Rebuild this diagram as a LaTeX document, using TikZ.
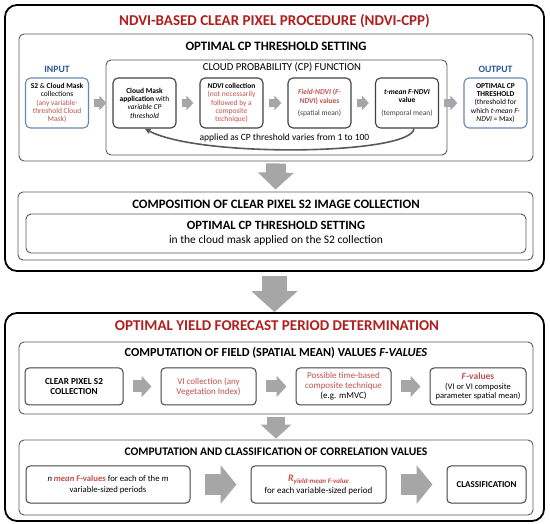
\documentclass[tikz,border=0pt]{standalone}
\usepackage{fontspec}
\setmainfont{Carlito}
\usepackage{xcolor}
\usetikzlibrary{arrows.meta}

\definecolor{titlered}{HTML}{B01E1E}
\definecolor{notered}{HTML}{C0504D}
\definecolor{ioblue}{HTML}{2F5597}
\definecolor{ioframe}{HTML}{6A85B5}
\definecolor{arrowgray}{HTML}{A6A6A6}
\definecolor{framegray}{HTML}{595959}
\definecolor{softblack}{HTML}{404040}

\newcommand{\redtxt}[1]{\textcolor{notered}{#1}}
\newcommand{\graytxt}[1]{\textcolor{softblack}{#1}}

\tikzset{
  outerbox/.style={draw=black, line width=1.8pt, rounded corners=12pt},
  groupbox/.style={draw=framegray, line width=0.9pt, rounded corners=5pt},
  stepbox/.style={draw=softblack, line width=1.1pt, rounded corners=5pt, align=center,
    inner sep=1pt, minimum width=63pt, minimum height=50pt, font=\fontsize{7.5}{8.3}\selectfont},
  iobox/.style={stepbox, draw=ioframe},
  rowbox/.style={draw=softblack, line width=1pt, rounded corners=4pt, align=center,
    inner sep=1pt, minimum height=37pt, font=\fontsize{9}{10}\selectfont},
  headline/.style={font=\fontsize{15}{17}\selectfont\bfseries, text=titlered},
  sectitle/.style={font=\fontsize{12}{14}\selectfont\bfseries},
  iolabel/.style={font=\fontsize{9.7}{11}\selectfont\bfseries, text=ioblue},
  thinflow/.style={draw=arrowgray, line width=8pt, -{Triangle[length=7pt,width=14pt]},
    shorten <=5pt, shorten >=6pt},
  midflow/.style={draw=arrowgray, line width=12pt, -{Triangle[length=10pt,width=21pt]},
    shorten <=9pt, shorten >=9pt},
  wideflow/.style={draw=arrowgray, line width=21pt, -{Triangle[length=16pt,width=38pt]},
    shorten <=14pt, shorten >=14pt},
  looparrow/.style={draw=framegray, line width=1.6pt, -{Latex[length=6pt,width=6pt]}}
}

\begin{document}
\begin{tikzpicture}[x=1pt, y=-1pt]
  \useasboundingbox (0,0) rectangle (550,524);

  % Frames of the clear pixel procedure
  \node[outerbox, minimum width=539pt, minimum height=266pt] (cpp) at (274.5,138) {};
  \node[headline] (cpptitle) at (274.5,21) {NDVI-BASED CLEAR PIXEL PROCEDURE (NDVI-CPP)};
  \node[groupbox, minimum width=514pt, minimum height=127pt] (setting) at (276,97.5) {};
  \node[sectitle, font=\fontsize{12.8}{14}\selectfont\bfseries] (settingtitle) at (276,46) {OPTIMAL CP THRESHOLD SETTING};
  \node[groupbox, minimum width=341pt, minimum height=95pt] (cpfunc) at (276.5,107.5) {};
  \node[font=\fontsize{10.7}{12}\selectfont] (cptitle) at (282,67) {CLOUD PROBABILITY (CP) FUNCTION};
  \node[iolabel] (inlabel) at (57,69) {INPUT};
  \node[iolabel] (outlabel) at (495.5,69) {OUTPUT};

  % Steps of the CP function
  \node[iobox] (input) at (57,103) {\textbf{S2} \& \textbf{Cloud Mask}\\collections\\\redtxt{(any variable-}\\\redtxt{threshold Cloud}\\\redtxt{Mask)}};
  \node[stepbox] (cloudmask) at (144.5,103) {\textbf{Cloud Mask}\\\textbf{application} with\\\textit{variable CP}\\\textit{threshold}};
  \node[stepbox] (ndvicoll) at (231.5,103) {\textbf{\textit{NDVI} collection}\\\redtxt{(not necessarily}\\\redtxt{followed by a}\\\redtxt{composite}\\\redtxt{technique)}};
  \node[stepbox] (fieldndvi) at (319.5,103) {\redtxt{\textbf{\textit{Field-NDVI} (\textit{F-}}}\\\redtxt{\textbf{\textit{NDVI}) values}}\\[4pt]\graytxt{(spatial mean)}};
  \node[stepbox] (tmean) at (407,103) {\textbf{\textit{t-mean F-NDVI}}\\\textbf{value}\\[4pt]\graytxt{(temporal mean)}};
  \node[iobox] (output) at (495.5,103) {\textbf{OPTIMAL CP}\\\textbf{THRESHOLD}\\(threshold for\\which \textit{t-mean F-}\\\textit{NDVI} = Max)};
  \node[font=\fontsize{9.5}{11}\selectfont] (looplabel) at (284.5,138) {applied as CP threshold varies from 1 to 100};

  % Composition frame
  \node[groupbox, minimum width=515pt, minimum height=68pt] (composition) at (275.5,226) {};
  \node[sectitle, font=\fontsize{12.8}{14}\selectfont\bfseries] (comptitle) at (276,204) {COMPOSITION OF CLEAR PIXEL S2 IMAGE COLLECTION};
  \node[groupbox, align=center, minimum width=500pt, minimum height=39pt, font=\fontsize{11.5}{14}\selectfont] (applied) at (276,233.5) {{\fontsize{12.6}{14}\selectfont\textbf{OPTIMAL CP THRESHOLD SETTING}}\\in the cloud mask applied on the S2 collection};

  % Frames of the yield forecast period
  \node[outerbox, minimum width=539pt, minimum height=208pt] (yield) at (274.5,417) {};
  \node[headline] (yieldtitle) at (277,326) {OPTIMAL YIELD FORECAST PERIOD DETERMINATION};
  \node[groupbox, minimum width=514pt, minimum height=72pt] (fieldvals) at (276,378) {};
  \node[sectitle, font=\fontsize{12.3}{14}\selectfont\bfseries] (fieldtitle) at (276,353) {COMPUTATION OF FIELD (SPATIAL MEAN) VALUES \textit{F-VALUES}};
  \node[groupbox, minimum width=514pt, minimum height=75pt] (corr) at (276,477.5) {};
  \node[sectitle, font=\fontsize{11.6}{14}\selectfont\bfseries] (corrtitle) at (276,452) {COMPUTATION AND CLASSIFICATION OF CORRELATION VALUES};

  % Steps of the field values
  \node[rowbox, minimum width=98pt, font=\fontsize{9.2}{10}\selectfont] (clearpx) at (74,386.5) {\textbf{CLEAR PIXEL S2}\\\textbf{COLLECTION}};
  \node[rowbox, minimum width=95pt] (vicoll) at (208.5,386.5) {\redtxt{VI collection (any}\\\redtxt{Vegetation Index)}};
  \node[rowbox, minimum width=95pt] (composite) at (343.5,386.5) {\redtxt{Possible time-based}\\\redtxt{composite technique}\\(e.g. mMVC)};
  \node[rowbox, minimum width=96pt, font=\fontsize{8.5}{9.5}\selectfont] (fvalues) at (478,386.5) {\redtxt{\fontsize{9.5}{10}\selectfont\textbf{\textit{F}-values}}\\(VI or VI composite\\parameter spatial mean)};

  % Steps of the correlation values
  \node[rowbox, minimum width=164pt, font=\fontsize{8.7}{10.5}\selectfont] (nmean) at (108,484.5) {\textit{n} \redtxt{\textbf{\textit{mean} F-values}} for each of the \textit{m}\\variable-sized periods};
  \node[rowbox, minimum width=135pt, font=\fontsize{9}{12}\selectfont] (rvalue) at (318.5,484.5) {\redtxt{\fontsize{10}{11}\selectfont\textbf{\textit{R}}\raisebox{-2pt}{\fontsize{7}{8}\selectfont\bfseries\itshape yield-mean F-value}}\\for each variable-sized period};
  \node[rowbox, minimum width=79pt, font=\fontsize{9}{10}\selectfont] (classif) at (486.5,484.5) {\textbf{CLASSIFICATION}};

  % Flows
  \draw[thinflow] (input) -- (cloudmask);
  \draw[thinflow] (cloudmask) -- (ndvicoll);
  \draw[thinflow] (ndvicoll) -- (fieldndvi);
  \draw[thinflow] (fieldndvi) -- (tmean);
  \draw[thinflow] (tmean) -- (output);
  \draw[looparrow] ([xshift=7pt]tmean.south) .. controls (412,155) and (200,158) .. (cloudmask.south);
  \draw[draw=arrowgray, line width=20pt, -{Triangle[length=17pt,width=35pt]}, shorten <=2pt, shorten >=2pt] (setting.south) -- (composition.north);
  \draw[draw=arrowgray, line width=25pt, -{Triangle[length=21pt,width=45pt]}, shorten <=4pt] (cpp.south) -- (yield.north);
  \draw[midflow] (clearpx) -- (vicoll);
  \draw[midflow] (vicoll) -- (composite);
  \draw[midflow] (composite) -- (fvalues);
  \draw[draw=arrowgray, line width=18pt, -{Triangle[length=14pt,width=30pt]}, shorten <=3pt, shorten >=1pt] (fieldvals.south) -- (corr.north);
  \draw[wideflow] (nmean) -- (rvalue);
  \draw[wideflow] (rvalue) -- (classif);
\end{tikzpicture}
\end{document}
